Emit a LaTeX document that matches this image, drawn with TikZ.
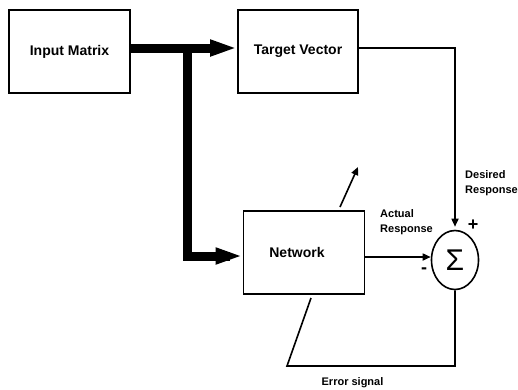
\documentclass[tikz,border=0pt]{standalone}
\usepackage{fontspec}
\setmainfont{Liberation Sans}
\usetikzlibrary{arrows.meta,shapes.geometric}
\begin{document}
\begin{tikzpicture}[x=1bp,y=-1bp,
  box/.style={draw,line width=1.6bp,minimum width=#1,minimum height=83bp,inner sep=0pt},
  boxtext/.style={font=\fontsize{14bp}{16bp}\selectfont\bfseries},
  small/.style={font=\fontsize{11bp}{15bp}\selectfont\bfseries,inner sep=0pt,align=left},
  sign/.style={font=\fontsize{18bp}{18bp}\selectfont\bfseries,inner sep=0pt},
  thin/.style={line width=1.6bp},
  thinarrow/.style={thin,-{Triangle[length=8bp,width=7bp]}},
  fat/.style={line width=9bp,line join=miter},
  fatarrow/.style={fat,-{Triangle[length=27bp,width=15bp]}}]
\useasboundingbox[fill=white] (0,0) rectangle (518,389);
% boxes
\node[box=121bp,boxtext] (in) at (69.5,51.5) {Input Matrix};
\node[box=120bp,boxtext] (tv) at (298,51.5) {Target Vector};
\node[box=121bp,label={[boxtext,xshift=-7bp]center:Network}] (net) at (304,252.5) {};
\node[draw,thin,ellipse,minimum width=47bp,minimum height=59bp,inner sep=0pt,
      font=\fontsize{30bp}{30bp}\selectfont] (sum) at (455,260) {Σ};
% junction coordinates
\coordinate (j1) at (187,48);
\coordinate (j2) at (187,256);
% thick arrows
\draw[fatarrow] (in.east |- j1) -- (tv.west |- j1);
\draw[fat] (187,44) -- (j2) -- (230,256);
\draw[fatarrow] (j2) -- (net.west |- j2);
% desired response
\draw[thinarrow,shorten >=3bp] (tv.east |- j1) -| (sum.north);
% actual response
\coordinate (a1) at (0,257);
\draw[thinarrow] (net.east |- a1) -- (sum.west |- a1);
% adjustment arrow
\coordinate (d1) at (340,207);
\coordinate (d2) at (358,167);
\draw[thinarrow] (d1) -- (d2);
% error signal loop
\coordinate (e1) at (455,366);
\coordinate (e2) at (287,366);
\coordinate (e3) at (311,298);
\draw[thin,line join=miter] (sum.south) -- (e1) -- (e2) -- (e3);
% labels
\node[small,anchor=north west] (lact) at (380,209) {Actual\\Response};
\node[small,anchor=north west] (ldes) at (465,170) {Desired\\Response};
\node[small] (lerr) at (352.5,383) {Error signal};
\node[sign] (plus) at (473,225) {+};
\node[sign] (minus) at (424,271) {-};
\end{tikzpicture}
\end{document}
